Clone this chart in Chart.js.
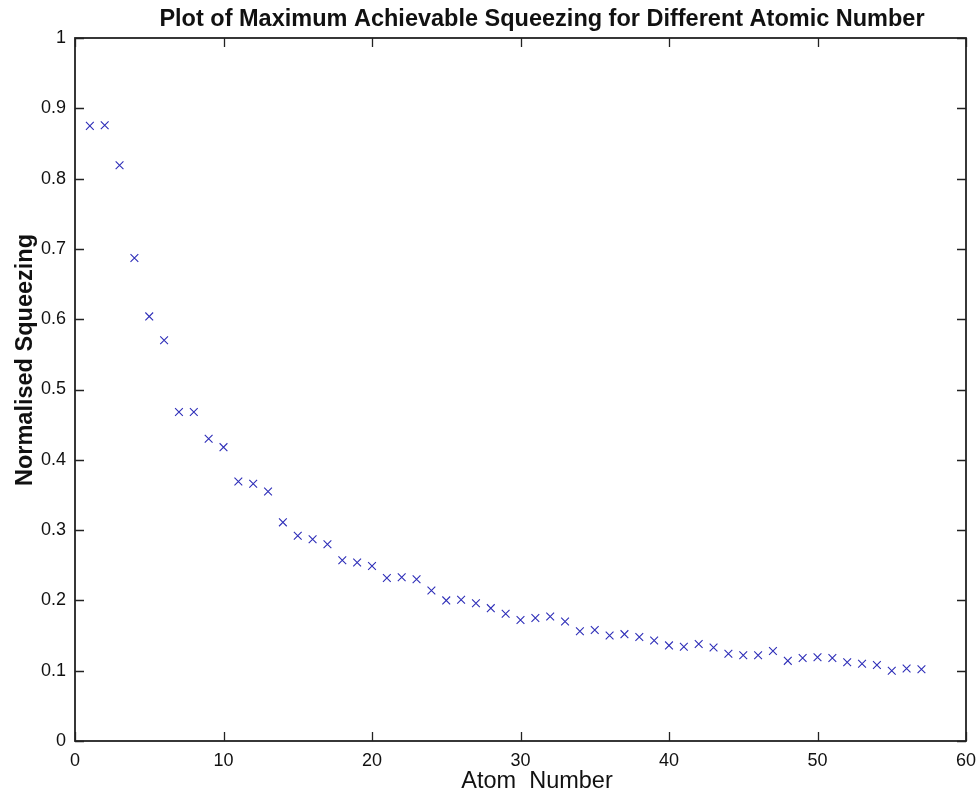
<!DOCTYPE html>
<html>
<head>
<meta charset="utf-8">
<title>Maximum Achievable Squeezing</title>
<script src="https://cdn.jsdelivr.net/npm/chart.js@4.4.1/dist/chart.umd.min.js"></script>
<style>
  body { margin: 0; background: #fff; }
  canvas { display: block; }
</style>
</head>
<body>
<canvas id="squeezeChart" width="978" height="796"></canvas>
<script>
// atom number vs normalised squeezing
const atoms = [];
for (let n = 1; n <= 57; n++) atoms.push(n);
const squeezing = [
  0.875, 0.876, 0.819, 0.687, 0.604, 0.570, 0.468, 0.468, 0.430, 0.418,
  0.369, 0.366, 0.355, 0.311, 0.292, 0.287, 0.280, 0.257, 0.254, 0.249,
  0.232, 0.233, 0.230, 0.214, 0.200, 0.201, 0.196, 0.189, 0.181, 0.172,
  0.175, 0.177, 0.170, 0.156, 0.158, 0.150, 0.152, 0.148, 0.143, 0.136,
  0.134, 0.138, 0.133, 0.124, 0.122, 0.122, 0.128, 0.114, 0.118, 0.119,
  0.118, 0.112, 0.110, 0.108, 0.100, 0.103, 0.102
];
const xTicks = [0, 10, 20, 30, 40, 50, 60];
const yTicks = [0, 0.1, 0.2, 0.3, 0.4, 0.5, 0.6, 0.7, 0.8, 0.9, 1];

const chartTitle = 'Plot of Maximum Achievable Squeezing for Different Atomic Number';
const xTitle = 'Atom  Number';
const yTitle = 'Normalised Squeezing';

const FONT = '"Liberation Sans", Arial, sans-serif';
const points = atoms.map((a, i) => ({ x: a, y: squeezing[i] }));

// box frame, inward ticks and titles, matlab style
const matlabFrame = {
  id: 'matlabFrame',
  afterDraw(chart) {
    const ctx = chart.ctx;
    const a = chart.chartArea;
    const xs = chart.scales.x, ys = chart.scales.y;
    ctx.save();
    ctx.strokeStyle = '#222';
    ctx.lineWidth = 1.3;
    ctx.beginPath();
    xTicks.forEach(v => {
      const px = Math.round(xs.getPixelForValue(v)) + 0.5;
      ctx.moveTo(px, a.bottom); ctx.lineTo(px, a.bottom - 9);
      ctx.moveTo(px, a.top); ctx.lineTo(px, a.top + 9);
    });
    yTicks.forEach(v => {
      const py = Math.round(ys.getPixelForValue(v)) + 0.5;
      ctx.moveTo(a.left, py); ctx.lineTo(a.left + 9, py);
      ctx.moveTo(a.right, py); ctx.lineTo(a.right - 9, py);
    });
    ctx.stroke();
    ctx.lineWidth = 1.8;
    ctx.strokeRect(a.left, a.top, a.right - a.left, a.bottom - a.top);

    ctx.fillStyle = '#111';
    ctx.textAlign = 'center';
    ctx.textBaseline = 'alphabetic';
    ctx.font = 'bold 23.5px ' + FONT;
    ctx.fillText(chartTitle, 542, 26);
    ctx.font = '23.5px ' + FONT;
    ctx.fillText(xTitle, 537, 788);
    ctx.translate(32, 360);
    ctx.rotate(-Math.PI / 2);
    ctx.font = 'bold 23.5px ' + FONT;
    ctx.fillText(yTitle, 0, 0);
    ctx.restore();
  }
};

new Chart(document.getElementById('squeezeChart'), {
  type: 'scatter',
  data: {
    datasets: [{
      data: points,
      pointStyle: 'crossRot',
      pointRadius: 5.5,
      pointBorderWidth: 1.1,
      borderColor: '#2e2eb8',
      backgroundColor: '#2e2eb8'
    }]
  },
  options: {
    responsive: false,
    animation: false,
    layout: { padding: { left: 0, top: 38, right: 12, bottom: 0 } },
    plugins: { legend: { display: false }, tooltip: { enabled: false } },
    scales: {
      x: {
        type: 'linear', min: 0, max: 60,
        afterBuildTicks: s => { s.ticks = xTicks.map(v => ({ value: v })); },
        afterFit: s => { s.height = 55; s.paddingLeft = 0; s.paddingRight = 0; },
        grid: { display: false, drawTicks: false },
        border: { display: false },
        ticks: { color: '#111', padding: 9, font: { size: 18, family: FONT } }
      },
      y: {
        type: 'linear', min: 0, max: 1,
        afterBuildTicks: s => { s.ticks = yTicks.map(v => ({ value: v })); },
        afterFit: s => { s.width = 75; s.paddingTop = 0; s.paddingBottom = 0; },
        grid: { display: false, drawTicks: false },
        border: { display: false },
        ticks: {
          color: '#111', padding: 9,
          font: { size: 18, family: FONT },
          callback: v => String(Math.round(v * 10) / 10)
        }
      }
    }
  },
  plugins: [matlabFrame]
});
</script>
</body>
</html>
